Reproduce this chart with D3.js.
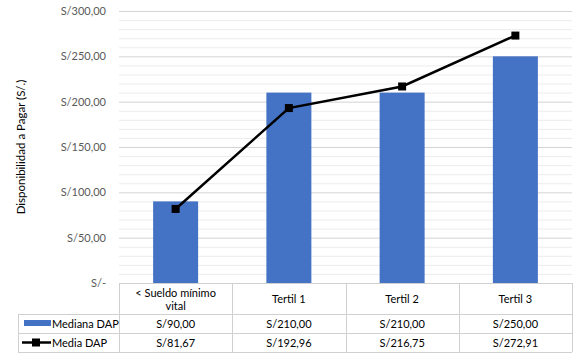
<!DOCTYPE html>
<html><head><meta charset="utf-8">
<script src="https://cdn.jsdelivr.net/npm/d3@7"></script>
<style>body{margin:0;background:#fff}svg{display:block}</style>
</head><body><svg id="c" width="579" height="360"></svg>
<script>
const categories = ["< Sueldo mínimo vital", "Tertil 1", "Tertil 2", "Tertil 3"];
const medianaDAP = [90, 210, 210, 250];
const mediaDAP = [81.67, 192.96, 216.75, 272.91];
const seriesNames = ["Mediana DAP", "Media DAP"];
const yTicks = [0, 50, 100, 150, 200, 250, 300];
const yTitle = "Disponibilidad a Pagar (S/.)";

const svg = d3.select("#c");
const font = "Lato, 'Open Sans', sans-serif";
const L = 119, R = 572, T = 11, B = 283;
const x = d3.scaleBand().domain(categories).range([L, R]);
const y = d3.scaleLinear().domain([0, 300]).range([B, T]);
const fmt = v => v === 0 ? "S/-" : "S/" + d3.format(",.2f")(v).replace(/,/g, "#").replace(".", ",").replace(/#/g, ".");

// minor grid
svg.append("g").selectAll("line").data(d3.range(0, 301, 10).filter(v => v % 50 !== 0))
  .join("line").attr("x1", L).attr("x2", R).attr("y1", d => y(d) + 0.5).attr("y2", d => y(d) + 0.5)
  .attr("stroke", "#ececec").attr("stroke-width", 1);
// major grid
svg.append("g").selectAll("line").data(yTicks)
  .join("line").attr("x1", L).attr("x2", R).attr("y1", d => y(d) + 0.5).attr("y2", d => y(d) + 0.5)
  .attr("stroke", "#d4d4d4").attr("stroke-width", 1);

// y axis labels
const yAxis = d3.axisLeft(y).tickValues(yTicks).tickFormat(fmt).tickSize(0).tickPadding(0);
const ya = svg.append("g").attr("transform", `translate(${L - 13},0)`).call(yAxis);
ya.select(".domain").remove();
ya.selectAll("text").attr("font-family", font).attr("font-size", 11).attr("fill", "#595959");

// y title
svg.append("text").attr("transform", `translate(25,${(T + B) / 2}) rotate(-90)`)
  .attr("text-anchor", "middle").attr("font-family", font).attr("font-size", 11.5).attr("fill", "#000").text(yTitle);

// bars
const bw = 45;
svg.append("g").selectAll("rect").data(medianaDAP).join("rect")
  .attr("x", (d, i) => x(categories[i]) + x.bandwidth() / 2 - bw / 2)
  .attr("width", bw).attr("y", d => y(d)).attr("height", d => B - y(d)).attr("fill", "#4472C4");

// line
const cx = i => x(categories[i]) + x.bandwidth() / 2;
svg.append("path").datum(mediaDAP)
  .attr("d", d3.line().x((d, i) => cx(i)).y(d => y(d)))
  .attr("fill", "none").attr("stroke", "#000").attr("stroke-width", 2.5);
svg.append("g").selectAll("rect").data(mediaDAP).join("rect")
  .attr("x", (d, i) => cx(i) - 4).attr("y", d => y(d) - 4).attr("width", 8).attr("height", 8).attr("fill", "#000");

// table
const rowY = [283, 314, 333, 352];
const tL = 18;
const tbl = svg.append("g");
const lc = "#d0d0d0";
// horizontal lines
tbl.append("line").attr("x1", L).attr("x2", R).attr("y1", rowY[0] + 0.5).attr("y2", rowY[0] + 0.5).attr("stroke", lc);
[1, 2, 3].forEach(k => tbl.append("line").attr("x1", tL).attr("x2", R).attr("y1", rowY[k] + 0.5).attr("y2", rowY[k] + 0.5).attr("stroke", lc));
// vertical lines
const vx = categories.map(c => x(c)).concat([R]);
vx.forEach(v => tbl.append("line").attr("x1", Math.round(v) + 0.5).attr("x2", Math.round(v) + 0.5).attr("y1", rowY[0]).attr("y2", rowY[3]).attr("stroke", lc));
tbl.append("line").attr("x1", tL + 0.5).attr("x2", tL + 0.5).attr("y1", rowY[1]).attr("y2", rowY[3]).attr("stroke", lc);

// header text
categories.forEach((c, i) => {
  const t = tbl.append("text").attr("x", cx(i)).attr("text-anchor", "middle")
    .attr("font-family", font).attr("font-size", 11).attr("fill", "#000");
  if (i === 0) {
    t.append("tspan").attr("x", cx(i)).attr("y", 297).text("< Sueldo mínimo");
    t.append("tspan").attr("x", cx(i)).attr("y", 310).text("vital");
  } else {
    t.attr("y", 303).text(c);
  }
});
// value rows
[medianaDAP, mediaDAP].forEach((arr, r) => {
  arr.forEach((v, i) => {
    tbl.append("text").attr("x", cx(i)).attr("y", (rowY[r + 1] + rowY[r + 2]) / 2 + 4)
      .attr("text-anchor", "middle").attr("font-family", font).attr("font-size", 11).attr("fill", "#000").text(fmt(v));
  });
  tbl.append("text").attr("x", 52).attr("y", (rowY[r + 1] + rowY[r + 2]) / 2 + 4)
    .attr("font-family", font).attr("font-size", 11).attr("fill", "#000").text(seriesNames[r]);
});
// legend keys
tbl.append("rect").attr("x", 24).attr("y", 320).attr("width", 27).attr("height", 6).attr("fill", "#4472C4");
tbl.append("line").attr("x1", 22).attr("x2", 51).attr("y1", 342.5).attr("y2", 342.5).attr("stroke", "#000").attr("stroke-width", 2.5);
tbl.append("rect").attr("x", 32).attr("y", 338.5).attr("width", 8).attr("height", 8).attr("fill", "#000");
</script></body></html>
